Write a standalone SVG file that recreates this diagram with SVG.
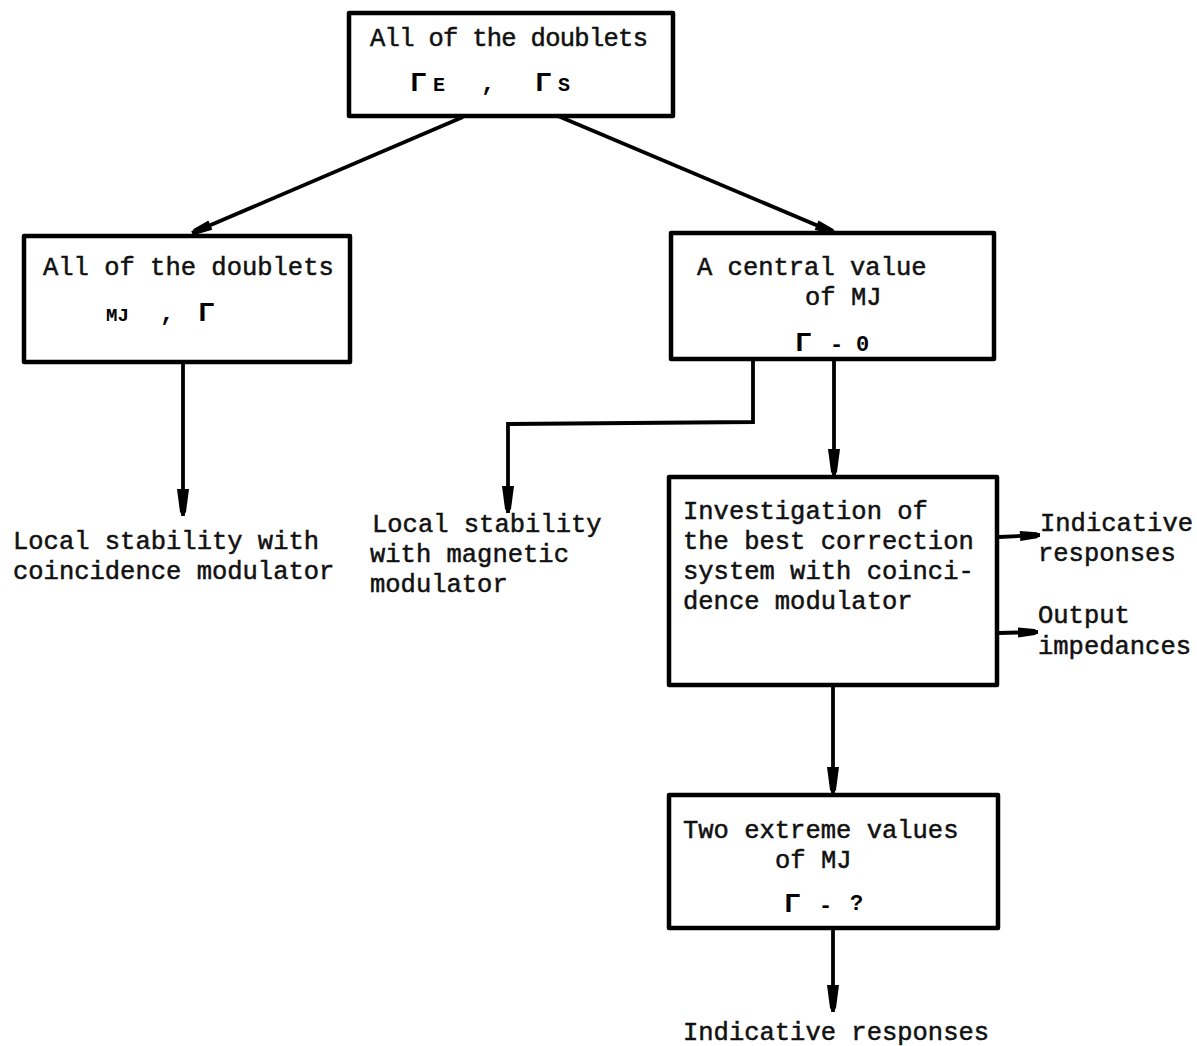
<svg xmlns="http://www.w3.org/2000/svg" width="1197" height="1046" viewBox="0 0 1197 1046">
<style>
.box{fill:#fff;stroke:#000;stroke-width:4.5;stroke-linejoin:round}
.t{font-family:"Liberation Mono","DejaVu Sans Mono",monospace;font-size:25.5px;fill:#111;stroke:#111;stroke-width:0.5}
.sym{font-family:"Liberation Mono","DejaVu Sans Mono",monospace;font-weight:bold;fill:#000}
.c{fill:none;stroke:#000;stroke-width:3.8;stroke-linejoin:miter}
</style>
<defs>
<marker id="ah" markerUnits="userSpaceOnUse" viewBox="-30 -8 32 16" markerWidth="32" markerHeight="16" refX="0" refY="0" orient="auto">
<path d="M-27,-6 L-4,-3 L0,0 L-4,3 L-27,6 Z" fill="#000"/>
</marker>
<marker id="ahs" markerUnits="userSpaceOnUse" viewBox="-24 -7 26 14" markerWidth="26" markerHeight="14" refX="0" refY="0" orient="auto">
<path d="M-20,-5 L-3,-3 L0,0 L-3,3 L-20,5 Z" fill="#000"/>
</marker>
</defs>
<rect width="1197" height="1046" fill="#fff"/>
<g id="connectors">
<path class="c" d="M463,117 L192,233" marker-end="url(#ahs)"/>
<path class="c" d="M558,116 L835,233" marker-end="url(#ahs)"/>
<path class="c" d="M183,362 L183,516" marker-end="url(#ah)"/>
<path class="c" d="M753,359 L753,422 L508,424 L508,513" marker-end="url(#ah)"/>
<path class="c" d="M834,359 L834,476" marker-end="url(#ah)"/>
<path class="c" d="M999,537 L1040,535" marker-end="url(#ahs)"/>
<path class="c" d="M999,633 L1038,632" marker-end="url(#ahs)"/>
<path class="c" d="M833,686 L833,794" marker-end="url(#ah)"/>
<path class="c" d="M833,929 L833,1012" marker-end="url(#ah)"/>
</g>
<g id="node-top">
<rect class="box" x="349" y="13" width="324" height="103"/>
<text class="t" x="370" y="46" font-size="24.5" textLength="278" lengthAdjust="spacing">All of the doublets</text>
<text class="sym" x="410" y="91" font-size="28">Γ</text>
<text class="sym" x="433" y="91" font-size="20">E</text>
<text class="sym" x="481" y="91" font-size="24">,</text>
<text class="sym" x="535" y="91" font-size="28">Γ</text>
<text class="sym" x="558" y="91" font-size="20">S</text>
</g>
<g id="node-left">
<rect class="box" x="24" y="236" width="326" height="126"/>
<text class="t" x="43" y="275">All of the doublets</text>
<text class="sym" x="106" y="321" font-size="19">MJ</text>
<text class="sym" x="160" y="321" font-size="24">,</text>
<text class="sym" x="198" y="321" font-size="28">Γ</text>
</g>
<g id="node-central">
<rect class="box" x="671" y="233" width="323" height="126"/>
<text class="t" x="697" y="275">A central value</text>
<text class="t" x="805" y="305">of MJ</text>
<text class="sym" x="795" y="351" font-size="28">Γ</text>
<text class="sym" x="830" y="351" font-size="22">-</text>
<text class="sym" x="856" y="351" font-size="22">0</text>
</g>
<g id="node-investigation">
<rect class="box" x="669" y="477" width="328" height="208"/>
<text class="t" x="683" y="519">Investigation of</text>
<text class="t" x="683" y="549">the best correction</text>
<text class="t" x="683" y="579">system with coinci-</text>
<text class="t" x="683" y="609">dence modulator</text>
</g>
<g id="node-extreme">
<rect class="box" x="669" y="795" width="329" height="133"/>
<text class="t" x="683" y="838">Two extreme values</text>
<text class="t" x="775" y="868">of MJ</text>
<text class="sym" x="784" y="912" font-size="28">Γ</text>
<text class="sym" x="819" y="912" font-size="22">-</text>
<text class="sym" x="850" y="910" font-size="22">?</text>
</g>
<g id="label-local-coincidence">
<text class="t" x="13" y="549">Local stability with</text>
<text class="t" x="13" y="579">coincidence modulator</text>
</g>
<g id="label-local-magnetic">
<text class="t" x="372" y="532">Local stability</text>
<text class="t" x="370" y="562">with magnetic</text>
<text class="t" x="370" y="592">modulator</text>
</g>
<g id="label-indicative-right">
<text class="t" x="1040" y="531">Indicative</text>
<text class="t" x="1038" y="561">responses</text>
</g>
<g id="label-output">
<text class="t" x="1038" y="623">Output</text>
<text class="t" x="1038" y="654">impedances</text>
</g>
<g id="label-indicative-bottom">
<text class="t" x="683" y="1040">Indicative responses</text>
</g>
</svg>
